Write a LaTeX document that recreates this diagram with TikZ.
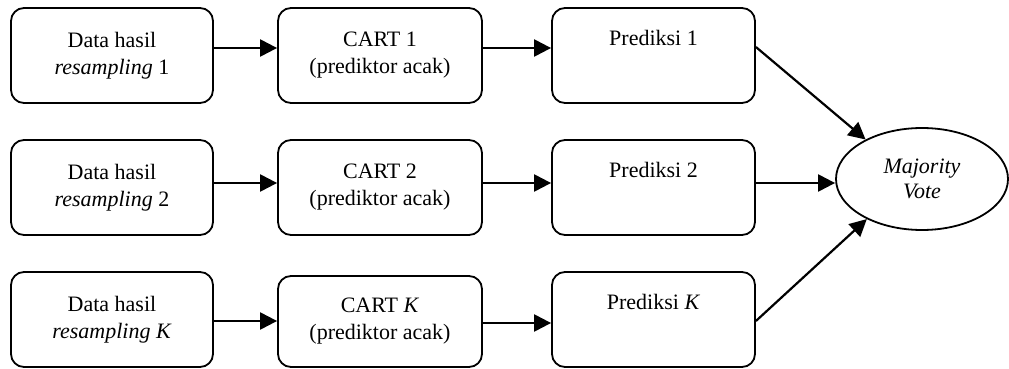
\documentclass[tikz,border=0pt]{standalone}
\usepackage{fontspec}
\setmainfont{Liberation Serif}
\usetikzlibrary{shapes.geometric,arrows.meta,calc}
\begin{document}
\begin{tikzpicture}[x=1pt,y=1pt,
  box/.style={draw, line width=1.8pt, rounded corners=13pt, minimum width=202pt,
    minimum height=95pt, align=center, font=\fontsize{22}{27}\selectfont, inner sep=0pt},
  vote/.style={draw, ellipse, line width=1.8pt, minimum width=172pt, minimum height=102pt,
    align=center, font=\fontsize{22}{25}\selectfont\itshape, inner sep=0pt},
  arr/.style={line width=2.2pt, -{Triangle[length=17pt,width=17pt]}},
  link/.style={line width=2.2pt}]
\useasboundingbox (0,0) rectangle (1009,-369);

% first row
\node[box] (a1) at (112,-55.5) {Data hasil\\\textit{resampling} 1};
\node[box, minimum width=204pt] (b1) at (380,-55.5) {CART 1\\(prediktor acak)};
\node[box, minimum width=203pt] (c1) at (653.5,-55.5) {Prediksi 1\\\strut};

% second row
\node[box] (a2) at (112,-187.5) {Data hasil\\\textit{resampling} 2};
\node[box, minimum width=204pt] (b2) at (380,-187.5) {CART 2\\(prediktor acak)};
\node[box, minimum width=203pt] (c2) at (653.5,-187.5) {Prediksi 2\\\strut};

% last row
\node[box] (a3) at (112,-319.5) {Data hasil\\\textit{resampling K}};
\node[box, minimum width=204pt, minimum height=91pt] (b3) at (380,-321.5) {CART \textit{K}\\(prediktor acak)};
\node[box, minimum width=203pt] (c3) at (653.5,-319.5) {Prediksi \textit{K}\\\strut};

% voting
\node[vote] (v) at (922,-179) {Majority\\Vote};

% row connectors
\draw[arr] ([yshift=7.5]a1.east) coordinate (p1) -- (p1 -| b1.west);
\draw[arr] ([yshift=7.5]b1.east) coordinate (q1) -- (q1 -| c1.west);
\draw[arr] ([yshift=4.5]a2.east) coordinate (p2) -- (p2 -| b2.west);
\draw[arr] ([yshift=4.5]b2.east) coordinate (q2) -- (q2 -| c2.west);
\draw[arr] ([yshift=-1.5]a3.east) coordinate (p3) -- (p3 -| b3.west);
\draw[arr] ([yshift=-1.5]b3.east) coordinate (q3) -- (q3 -| c3.west);

% into the vote
\draw[arr] ([yshift=8.5]c1.east) -- (v.145);
\draw[arr] ([yshift=4.5]c2.east) coordinate (r2) -- (r2 -| v.west);
\draw[arr] ([yshift=-1.5]c3.east) -- (v.216);
\end{tikzpicture}
\end{document}
